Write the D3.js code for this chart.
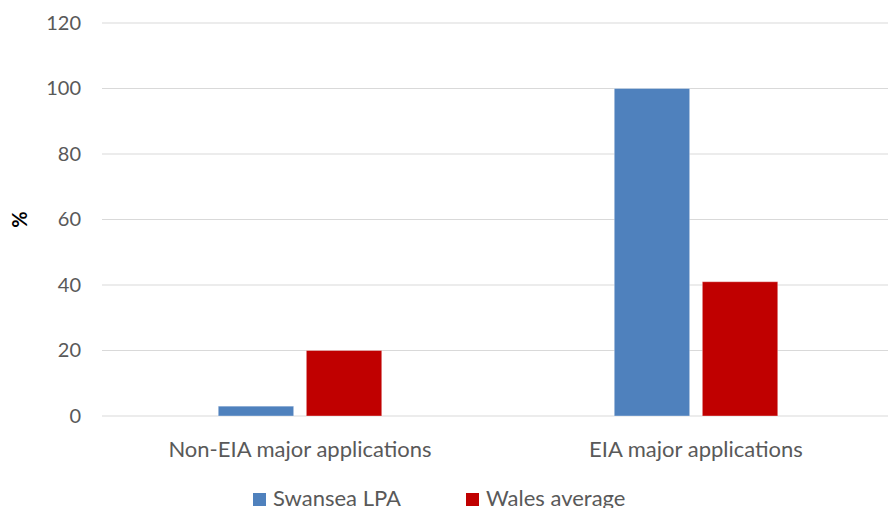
<!DOCTYPE html>
<html><head><meta charset="utf-8">
<script src="https://cdn.jsdelivr.net/npm/d3@7"></script>
<style>body{margin:0;background:#fff;} svg{display:block;font-family:Lato,"Open Sans",sans-serif;}</style>
</head><body>
<svg id="c" width="888" height="508"></svg>
<script>
const categories = ["Non-EIA major applications", "EIA major applications"];
const seriesNames = ["Swansea LPA", "Wales average"];
const swanseaValues = [3, 100];
const walesValues = [20, 41];
const yTicks = [0, 20, 40, 60, 80, 100, 120];
const colors = ["#4F81BD", "#C00000"];

(function () {
const svg = d3.select("#c");
const pLeft = 102, pRight = 894, pTop = 23, pBottom = 416;
const x0 = d3.scaleBand().domain(categories).range([pLeft, pRight]).padding(0);
const x1 = d3.scaleBand().domain(seriesNames).range([0, x0.bandwidth()]).paddingInner(0.144).paddingOuter(1.32);
const y = d3.scaleLinear().domain([0, 120]).range([pBottom, pTop]);

// gridlines
svg.append("g").selectAll("line").data(yTicks).join("line")
  .attr("x1", pLeft).attr("x2", pRight)
  .attr("y1", d => y(d)).attr("y2", d => y(d))
  .attr("stroke", "#d9d9d9").attr("stroke-width", 1);

// y axis labels
const yAxis = d3.axisLeft(y).tickValues(yTicks).tickSize(0).tickPadding(21);
const ya = svg.append("g").attr("transform", `translate(${pLeft},0)`).call(yAxis);
ya.select(".domain").remove();
ya.selectAll("text").attr("fill", "#595959").attr("font-size", 20).attr("font-family", "Lato, sans-serif");

// y title
svg.append("text").attr("transform", `translate(27,${(pTop+pBottom)/2}) rotate(-90)`)
  .attr("text-anchor", "middle").attr("font-weight", "bold").attr("font-size", 20)
  .attr("fill", "#000").text("%");

// bars
const data = categories.map((c, i) => ({cat: c, vals: [
  {s: seriesNames[0], v: swanseaValues[i]},
  {s: seriesNames[1], v: walesValues[i]}]}));
const g = svg.append("g").selectAll("g").data(data).join("g")
  .attr("transform", d => `translate(${x0(d.cat)},0)`);
g.selectAll("rect").data(d => d.vals).join("rect")
  .attr("x", d => x1(d.s)).attr("width", x1.bandwidth())
  .attr("y", d => y(d.v)).attr("height", d => y(0) - y(d.v))
  .attr("fill", (d, i) => colors[i])
  .attr("stroke", "rgba(255,255,255,0.35)").attr("stroke-width", 1);

// x axis labels
const xAxis = d3.axisBottom(x0).tickSize(0).tickPadding(0);
const xa = svg.append("g").attr("transform", `translate(0,${pBottom})`).call(xAxis);
xa.select(".domain").remove();
xa.selectAll("text").attr("fill", "#595959").attr("font-size", 22).attr("font-family", "Lato, sans-serif")
  .attr("dy", null).attr("y", 41);

// legend
const legend = svg.append("g");
const legX = [253, 466];
seriesNames.forEach((s, i) => {
  legend.append("rect").attr("x", legX[i]).attr("y", 493).attr("width", 13).attr("height", 13).attr("fill", colors[i]);
  legend.append("text").attr("x", legX[i] + 20).attr("y", 506).attr("font-size", 22)
    .attr("fill", "#595959").text(s);
});
})();
</script>
</body></html>
